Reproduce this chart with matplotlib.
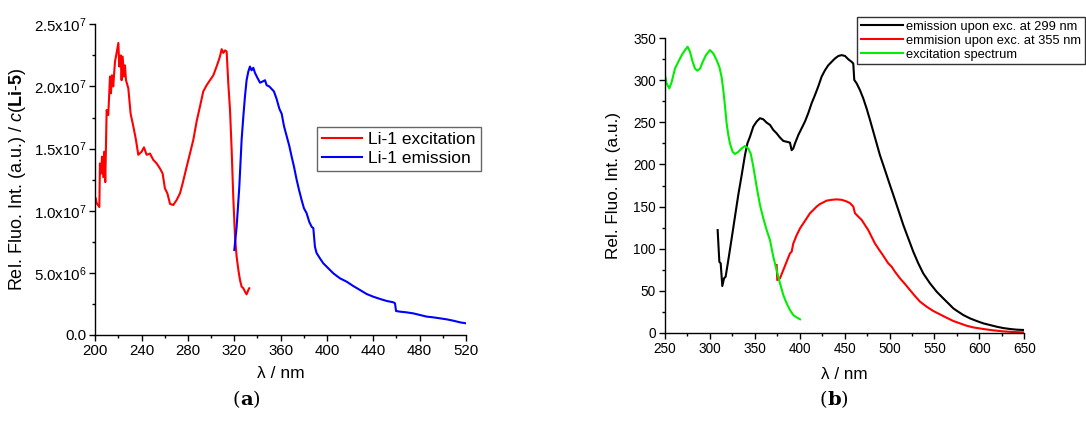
import matplotlib
matplotlib.use("Agg")
import matplotlib.pyplot as plt
import numpy as np
from matplotlib.ticker import MultipleLocator, FixedLocator, FixedFormatter

plt.rcParams['font.family'] = ['Liberation Sans', 'DejaVu Sans']
plt.rcParams['mathtext.fontset'] = 'custom'
plt.rcParams['mathtext.rm'] = 'Liberation Sans'
plt.rcParams['mathtext.it'] = 'Liberation Sans:italic'
plt.rcParams['mathtext.bf'] = 'Liberation Sans:bold'

# ---------------- Panel (a) data ----------------
a_exc_x = [200.3, 201.2, 203.5, 204.0, 205.0, 205.8, 206.9, 207.8, 208.6, 209.8, 211.2, 212.7, 213.5,
           214.4, 215.5, 217.0, 218.4, 219.9, 220.7, 221.9, 222.7, 223.6, 224.7, 225.6, 226.5, 228.5,
           230.5, 232.8, 235.1, 237.1, 240.0, 242.0, 244.3, 247.2, 250.0, 253.0, 255.8, 258.1, 260.1,
           262.2, 264.5, 267.3, 270.2, 273.1, 275.4, 278.9, 281.7, 284.6, 287.5, 290.4, 293.2, 296.1,
           299.0, 301.9, 304.7, 307.6, 309.1, 310.5, 312.0, 313.4, 314.8, 316.3, 317.7, 319.1, 320.6,
           322.0, 323.5, 324.9, 326.3, 327.8, 329.2, 330.6, 332.1, 332.9]
a_exc_y = [1.10e7, 1.06e7, 1.03e7, 1.38e7, 1.30e7, 1.435e7, 1.27e7, 1.475e7, 1.23e7, 1.81e7, 1.77e7,
           2.08e7, 1.945e7, 2.09e7, 2.00e7, 2.20e7, 2.27e7, 2.35e7, 2.16e7, 2.25e7, 2.05e7, 2.24e7,
           2.08e7, 2.17e7, 2.05e7, 1.985e7, 1.78e7, 1.68e7, 1.57e7, 1.45e7, 1.475e7, 1.51e7, 1.45e7,
           1.46e7, 1.41e7, 1.38e7, 1.34e7, 1.30e7, 1.18e7, 1.14e7, 1.055e7, 1.046e7, 1.086e7, 1.14e7,
           1.22e7, 1.355e7, 1.46e7, 1.57e7, 1.72e7, 1.84e7, 1.96e7, 2.01e7, 2.05e7, 2.09e7, 2.16e7,
           2.24e7, 2.30e7, 2.27e7, 2.29e7, 2.28e7, 2.025e7, 1.81e7, 1.49e7, 1.11e7, 7.9e6, 6.3e6,
           5.23e6, 4.43e6, 3.89e6, 3.76e6, 3.49e6, 3.27e6, 3.62e6, 3.76e6]

a_em_x = [320.0, 322.0, 324.3, 326.3, 327.8, 329.2, 330.6, 332.1, 333.5, 334.9, 336.4, 337.8, 339.9,
          342.2, 344.5, 346.5, 347.9, 350.2, 352.2, 354.2, 356.5, 358.9, 360.9, 362.9, 365.2, 367.5,
          369.5, 371.5, 373.8, 375.8, 378.1, 380.1, 382.4, 384.7, 386.8, 388.2, 389.6, 391.0, 393.9,
          396.8, 399.7, 402.6, 405.5, 411.2, 417.0, 422.7, 428.5, 434.2, 440.0, 445.8, 451.5, 457.3,
          458.7, 459.6, 463.0, 468.8, 474.5, 480.3, 486.0, 491.8, 497.6, 503.3, 509.1, 514.8, 520.0]
a_em_y = [6.84e6, 8.7e6, 1.19e7, 1.57e7, 1.76e7, 1.92e7, 2.05e7, 2.12e7, 2.16e7, 2.13e7, 2.15e7,
          2.11e7, 2.07e7, 2.03e7, 2.04e7, 2.05e7, 2.01e7, 2.00e7, 1.98e7, 1.96e7, 1.90e7, 1.82e7,
          1.78e7, 1.68e7, 1.60e7, 1.52e7, 1.435e7, 1.355e7, 1.25e7, 1.17e7, 1.086e7, 1.02e7, 9.8e6,
          9.1e6, 8.7e6, 8.6e6, 7.1e6, 6.6e6, 6.17e6, 5.77e6, 5.5e6, 5.23e6, 4.96e6, 4.56e6, 4.29e6,
          3.94e6, 3.62e6, 3.30e6, 3.08e6, 2.90e6, 2.74e6, 2.63e6, 2.55e6, 1.93e6, 1.88e6, 1.82e6,
          1.74e6, 1.61e6, 1.48e6, 1.42e6, 1.34e6, 1.26e6, 1.15e6, 1.02e6, 0.94e6]

a_yticks = [0, 5e6, 1e7, 1.5e7, 2e7, 2.5e7]
a_yticklabels = ['0.0', '5.0x10$^6$', '1.0x10$^7$', '1.5x10$^7$', '2.0x10$^7$', '2.5x10$^7$']
a_labels = ['Li-1 excitation', 'Li-1 emission']

# ---------------- Panel (b) data ----------------
b_exc_x = [250.0, 251.9, 254.8, 257.4, 261.1, 264.8, 268.6, 272.3, 275.2, 277.8, 280.8, 283.4, 286.0,
           289.0, 292.0, 295.6, 300.0, 303.8, 307.5, 310.5, 313.0, 314.9, 316.8, 318.6, 320.5, 322.3,
           325.3, 327.9, 331.6, 335.3, 339.0, 342.7, 345.4, 348.3, 352.0, 355.7, 359.4, 363.2, 366.9,
           370.6, 374.3, 378.0, 381.7, 385.4, 389.1, 392.8, 396.6, 400.3]
b_exc_y = [306, 296, 290.5, 298, 314, 322, 330, 336, 340, 334, 322, 314, 311.5, 314, 322, 330, 336,
           332, 324, 316, 304, 288.5, 269, 249, 235, 225, 215, 212.5, 215, 219, 222, 219, 213, 197.5,
           173.6, 152, 136, 122, 110, 90, 74.5, 58.7, 44.8, 34.9, 27, 21, 18.2, 15.9]

b_em299_x = [308.6, 310.5, 312.0, 313.8, 315.7, 317.5, 320.5, 324.2, 327.9, 331.6, 335.3, 339.0, 341.7,
             344.6, 348.3, 352.0, 355.7, 359.4, 363.2, 366.9, 370.6, 374.3, 378.0, 381.7, 385.4, 389.1,
             391.0, 392.8, 394.7, 398.4, 402.1, 405.8, 409.5, 413.3, 417.0, 420.7, 424.4, 428.1, 431.8,
             435.5, 439.2, 443.0, 446.7, 450.4, 454.1, 457.8, 459.6, 460.7, 463.3, 467.0, 470.7, 474.4,
             478.2, 481.9, 485.6, 489.3, 493.0, 496.7, 500.4, 504.2, 507.9, 511.6, 515.3, 520.9, 526.4,
             532.0, 537.5, 545.0, 552.4, 559.8, 567.3, 571.0, 574.7, 582.1, 589.6, 597.0, 604.4, 611.9,
             619.3, 626.7, 634.2, 641.6, 650.0]
b_em299_y = [122, 84.4, 82.4, 55.5, 64.6, 66.6, 86.4, 112, 138, 164, 187, 211, 225, 233, 245, 251, 255,
             253.7, 249.7, 247, 241, 237, 232, 228, 227, 226, 217, 219, 225, 235, 243, 251, 261, 273,
             282.6, 293, 304.5, 312, 318, 322, 326, 329, 330, 329, 325, 322, 320, 300.5, 296.5, 288.5,
             278.6, 266.7, 253, 239, 225, 211, 199.4, 187.5, 175.6, 163.7, 151.8, 140, 128, 112, 96.3,
             82.4, 70.5, 58.7, 48.8, 40.8, 32.9, 28.9, 26.2, 21, 17, 13.9, 11.1, 9.1, 7.1, 5.5, 4.4, 3.6,
             3.2]

b_em355_x = [374.3, 375.0, 378.0, 381.7, 385.4, 389.1, 391.0, 392.8, 396.6, 400.3, 404.0, 407.7, 411.4,
             415.2, 418.9, 422.6, 426.3, 430.0, 435.5, 441.1, 446.7, 452.3, 456.0, 459.6, 461.5, 465.2,
             469.0, 472.6, 476.3, 480.0, 483.8, 487.5, 491.2, 494.9, 498.6, 502.3, 506.0, 511.6, 517.2,
             522.7, 528.3, 533.9, 541.3, 548.7, 556.1, 563.5, 571.0, 578.4, 585.8, 593.2, 604.4, 615.5,
             626.7, 637.9, 650.0]
b_em355_y = [80.5, 62.6, 64.6, 74.5, 84.4, 94.3, 96.3, 106, 116, 124, 130, 136, 142, 146, 150, 153, 155,
             157, 158, 158.5, 158, 156, 154, 150, 142, 138, 134, 128, 122, 114, 106, 100, 94.3, 88.4,
             82.4, 78.5, 72.5, 64.6, 57.9, 50.7, 43.6, 36.9, 30.9, 25.8, 21.8, 17.8, 13.9, 11.1, 8.3,
             6.3, 4.4, 2.8, 1.6, 0.8, 0.4]

b_labels = ['emission upon exc. at 299 nm', 'emmision upon exc. at 355 nm', 'excitation spectrum']

# ---------------- Figure ----------------
W, H = 1086, 421
fig = plt.figure(figsize=(W / 100, H / 100), dpi=100)

def style_axes(ax, lsize):
    for s in ['top', 'right']:
        ax.spines[s].set_visible(False)
    for s in ['left', 'bottom']:
        ax.spines[s].set_linewidth(1.0)
    ax.tick_params(which='major', direction='out', length=4.5, width=1.0, labelsize=lsize, pad=2)
    ax.tick_params(which='minor', direction='out', length=2.5, width=1.0)

# Panel (a)
ax1 = fig.add_axes([95.3 / W, 1 - 335 / H, (466 - 95.3) / W, (335 - 24.3) / H])
style_axes(ax1, 10.8)
ax1.plot(a_exc_x, a_exc_y, color='#ff0000', lw=1.5, label=a_labels[0])
ax1.plot(a_em_x, a_em_y, color='#0000ff', lw=1.5, label=a_labels[1])
ax1.set_xlim(200, 520)
ax1.set_ylim(0, 2.5e7)
ax1.xaxis.set_major_locator(MultipleLocator(40))
ax1.xaxis.set_minor_locator(MultipleLocator(20))
ax1.yaxis.set_major_locator(FixedLocator(a_yticks))
ax1.yaxis.set_major_formatter(FixedFormatter(a_yticklabels))
ax1.yaxis.set_minor_locator(MultipleLocator(2.5e6))
ax1.set_xlabel('λ / nm', fontsize=12.5, labelpad=6)
ax1.set_ylabel(r'Rel. Fluo. Int. (a.u.) / $\mathit{c}$($\mathbf{Li}$-$\mathbf{5}$)', fontsize=13, labelpad=4)
leg1 = ax1.legend(loc='upper left', bbox_to_anchor=(316.7 / W, 1 - 126.7 / H),
                  bbox_transform=fig.transFigure, fontsize=12.5, frameon=True, fancybox=False,
                  edgecolor='#404040', borderpad=0.3, handlelength=2.3, handletextpad=0.35,
                  labelspacing=0.2, borderaxespad=0)
leg1.get_frame().set_linewidth(1.0)

# Panel (b)
ax2 = fig.add_axes([665 / W, 1 - 332.7 / H, (1024.3 - 665) / W, (332.7 - 38.3) / H])
style_axes(ax2, 9.8)
ax2.plot(b_em299_x, b_em299_y, color='black', lw=1.5, label=b_labels[0])
ax2.plot(b_em355_x, b_em355_y, color='#ff0000', lw=1.5, label=b_labels[1])
ax2.plot(b_exc_x, b_exc_y, color='#00ee00', lw=1.5, label=b_labels[2])
ax2.set_xlim(250, 650)
ax2.set_ylim(0, 350)
ax2.xaxis.set_major_locator(MultipleLocator(50))
ax2.xaxis.set_minor_locator(MultipleLocator(25))
ax2.yaxis.set_major_locator(MultipleLocator(50))
ax2.yaxis.set_minor_locator(MultipleLocator(25))
ax2.set_xlabel('λ / nm', fontsize=12.3, labelpad=8)
ax2.set_ylabel('Rel. Fluo. Int. (a.u.)', fontsize=12.3, labelpad=9)
leg2 = ax2.legend(loc='upper left', bbox_to_anchor=(857.3 / W, 1 - 17.3 / H),
                  bbox_transform=fig.transFigure, fontsize=9.3, frameon=True, fancybox=False,
                  edgecolor='black', borderpad=0.25, handlelength=3.3, handletextpad=0.25,
                  labelspacing=0.15, borderaxespad=0)
leg2.get_frame().set_linewidth(1.0)

# Panel letters
fig.text(240 / W, 1 - 400 / H, '(', fontsize=14, family='DejaVu Serif', ha='right', va='center')
fig.text(240 / W, 1 - 400 / H, 'a', fontsize=14, family='DejaVu Serif', weight='bold', ha='left', va='center')
fig.text(253 / W, 1 - 400 / H, ')', fontsize=14, family='DejaVu Serif', ha='left', va='center')
fig.text(827 / W, 1 - 400 / H, '(', fontsize=14, family='DejaVu Serif', ha='right', va='center')
fig.text(827 / W, 1 - 400 / H, 'b', fontsize=14, family='DejaVu Serif', weight='bold', ha='left', va='center')
fig.text(841 / W, 1 - 400 / H, ')', fontsize=14, family='DejaVu Serif', ha='left', va='center')

fig.savefig('out.png', dpi=100)
